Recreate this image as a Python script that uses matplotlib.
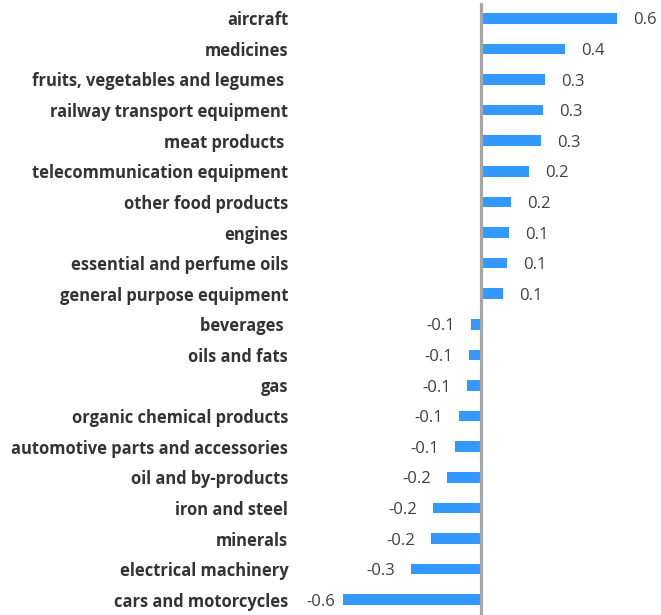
import matplotlib
matplotlib.use("Agg")
import matplotlib.pyplot as plt

# Data, top to bottom
categories = ["aircraft", "medicines", "fruits, vegetables and legumes ",
              "railway transport equipment", "meat products ",
              "telecommunication equipment", "other food products", "engines",
              "essential and perfume oils", "general purpose equipment",
              "beverages ", "oils and fats", "gas", "organic chemical products",
              "automotive parts and accessories", "oil and by-products",
              "iron and steel", "minerals", "electrical machinery",
              "cars and motorcycles"]
values = [0.68, 0.42, 0.32, 0.31, 0.30, 0.24, 0.15, 0.14, 0.13, 0.11,
          -0.05, -0.06, -0.07, -0.11, -0.13, -0.17, -0.24, -0.25, -0.35, -0.69]
value_labels = ["0.6", "0.4", "0.3", "0.3", "0.3", "0.2", "0.2", "0.1", "0.1", "0.1",
                "-0.1", "-0.1", "-0.1", "-0.1", "-0.1", "-0.2", "-0.2", "-0.2", "-0.3", "-0.6"]

W, H = 661, 615
fig = plt.figure(figsize=(W / 100, H / 100), dpi=100)
ax = fig.add_axes([300 / W, 0, 1 - 300 / W, 1 - 3 / H])

pos = list(range(len(categories)))
ax.barh(pos, values, height=0.35, color="#3399FF", zorder=2)
ax.axvline(0, color="#A6A6A6", lw=2.3, zorder=3)

ax.set_xlim(-0.905, 0.9)
ax.set_ylim(len(categories) - 0.5, -0.5)

ax.set_yticks(pos)
ax.set_yticklabels(categories, fontfamily="Open Sans", fontweight="bold",
                   fontsize=11.9, color="#333333")
ax.tick_params(axis="y", length=0, pad=8.5)
ax.set_xticks([])
for s in ax.spines.values():
    s.set_visible(False)

gap = 0.08
dy = 0.07
for p, v, lab in zip(pos, values, value_labels):
    if v >= 0:
        ax.text(v + gap, p + dy, lab, ha="left", va="center", fontsize=12,
                fontfamily="Open Sans", color="#404040")
    else:
        ax.text(max(v - gap, -0.73), p + dy, lab, ha="right", va="center", fontsize=12,
                fontfamily="Open Sans", color="#404040")

fig.savefig("out.png", dpi=100)
